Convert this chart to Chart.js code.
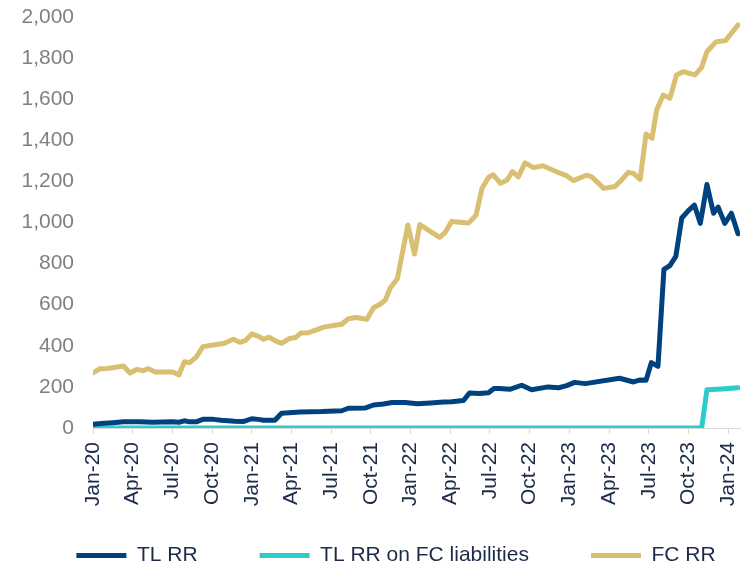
<!DOCTYPE html>
<html>
<head>
<meta charset="utf-8">
<script src="https://cdn.jsdelivr.net/npm/chart.js@4.4.1/dist/chart.umd.min.js"></script>
<style>
  body { margin: 0; background: #fff; }
  canvas { display: block; }
</style>
</head>
<body>
<canvas id="rrChart" width="741" height="564"></canvas>
<script>
// x positions are months since Jan-20
var tickMonths = [0, 3, 6, 9, 12, 15, 18, 21, 24, 27, 30, 33, 36, 39, 42, 45, 48];
var tickLabels = ['Jan-20', 'Apr-20', 'Jul-20', 'Oct-20', 'Jan-21', 'Apr-21', 'Jul-21', 'Oct-21',
  'Jan-22', 'Apr-22', 'Jul-22', 'Oct-22', 'Jan-23', 'Apr-23', 'Jul-23', 'Oct-23', 'Jan-24'];

var tlMonths = [0, 0.6, 1.5, 2.3, 3.5, 4.5, 6.0, 6.5, 6.9, 7.3, 7.8, 8.3, 9.1, 9.7, 10.7, 11.4, 12.0, 12.5,
  12.9, 13.75, 14.25, 15.65, 17.3, 18.8, 19.3, 20.55, 21.2, 21.95, 22.6, 23.6, 24.5, 25.5, 26.5, 27.1,
  28.0, 28.45, 29.2, 29.9, 30.3, 30.7, 31.5, 32.4, 33.15, 34.4, 35.2, 35.8, 36.4, 37.2, 39.8, 40.85,
  41.35, 41.8, 42.2, 42.7, 43.15, 43.6, 44.05, 44.5, 45.0, 45.45, 45.9, 46.4, 46.9, 47.25, 47.75, 48.25, 48.75];
var tlValues = [18, 22, 26, 30, 30, 28, 30, 28, 35, 30, 30, 42, 42, 38, 33, 32, 45, 42,
  38, 38, 72, 78, 80, 84, 96, 97, 112, 117, 124, 124, 118, 122, 126, 128,
  134, 170, 168, 172, 192, 192, 188, 208, 186, 200, 196, 206, 222, 216, 242, 224,
  234, 232, 318, 300, 772, 790, 835, 1022, 1058, 1085, 996, 1185, 1045, 1075, 996, 1045, 945];

var fcLiabMonths = [0, 46.0, 46.4, 47.5, 48.75];
var fcLiabValues = [0, 0, 186, 190, 196];

var fcMonths = [0, 0.5, 1.1, 1.7, 2.3, 2.8, 3.3, 3.8, 4.2, 4.7, 6.05, 6.5, 6.9, 7.3, 7.8, 8.3, 9.1, 9.95,
  10.6, 11.1, 11.5, 12.0, 12.5, 12.9, 13.3, 13.75, 14.25, 14.85, 15.3, 15.7, 16.3, 17.5, 18.8, 19.3,
  19.9, 20.7, 21.2, 21.7, 22.1, 22.45, 23.0, 23.8, 24.3, 24.7, 26.2, 26.6, 27.1, 28.4, 28.95, 29.4,
  29.9, 30.25, 30.8, 31.3, 31.7, 32.15, 32.65, 33.3, 34.0, 35.3, 35.8, 36.3, 37.3, 37.7, 38.6, 39.45,
  39.95, 40.45, 40.85, 41.35, 41.8, 42.25, 42.6, 43.1, 43.6, 44.1, 44.6, 45.5, 46.0, 46.4, 47.1, 47.8, 48.75];
var fcValues = [268, 288, 290, 296, 302, 268, 285, 279, 289, 272, 272, 258, 322, 318, 344, 396, 404, 412,
  432, 417, 425, 458, 446, 432, 442, 425, 412, 436, 440, 462, 464, 492, 505, 532,
  538, 529, 585, 602, 623, 680, 726, 988, 847, 990, 928, 950, 1005, 998, 1036, 1166,
  1220, 1232, 1191, 1207, 1248, 1222, 1290, 1267, 1276, 1240, 1228, 1204, 1230, 1222, 1166, 1175,
  1207, 1244, 1239, 1210, 1431, 1410, 1547, 1620, 1604, 1718, 1734, 1718, 1755, 1831, 1880, 1885, 1961];

function toPoints(xs, ys) {
  return xs.map(function(x, i) { return { x: x, y: ys[i] }; });
}

function lineSet(label, xs, ys, color) {
  return {
    label: label,
    data: toPoints(xs, ys),
    borderColor: color,
    backgroundColor: color,
    borderWidth: 5,
    pointRadius: 0,
    tension: 0,
    borderJoinStyle: 'round',
    borderCapStyle: 'round'
  };
}

// keep the legend on one row and let it sit low, under the rotated date labels
var legendTweak = {
  id: 'legendTweak',
  beforeInit: function(chart) {
    var fit = chart.legend.fit;
    chart.legend.fit = function() {
      var mw = this.maxWidth;
      this.maxWidth = 2000;
      fit.call(this);
      this.maxWidth = mw;
      this.width = mw;
      this.height = 58;
    };
  },
  afterLayout: function(chart) {
    var lg = chart.legend;
    // widen the box both ways (same centre + 26px) so nothing wraps
    lg.left -= 74;
    lg.right += 126;
    lg.top -= 23; // bottom stays put so the legend clip still covers the text
  }
};

var ctx = document.getElementById('rrChart').getContext('2d');
var rrChart = new Chart(ctx, {
  type: 'line',
  data: {
    datasets: [
      lineSet('TL RR', tlMonths, tlValues, '#00427f'),
      lineSet('TL RR on FC liabilities', fcLiabMonths, fcLiabValues, '#2ecbcb'),
      lineSet('FC RR', fcMonths, fcValues, '#d9bf72')
    ]
  },
  plugins: [legendTweak],
  options: {
    responsive: false,
    animation: false,
    devicePixelRatio: 1,
    locale: 'en-US',
    layout: { padding: { top: 17, right: 1, bottom: 0, left: 0 } },
    plugins: {
      tooltip: { enabled: false },
      legend: {
        position: 'bottom',
        labels: {
          font: { family: 'Liberation Sans, Arial, sans-serif', size: 21 },
          color: '#1c2b4a',
          boxWidth: 50,
          boxHeight: 5,
          padding: 62,
          generateLabels: function(chart) {
            return Chart.defaults.plugins.legend.labels.generateLabels(chart).map(function(item) {
              item.lineWidth = 0;
              item.fillStyle = item.strokeStyle;
              return item;
            });
          }
        }
      }
    },
    scales: {
      x: {
        type: 'linear',
        min: 0,
        max: 48.9,
        afterBuildTicks: function(scale) {
          scale.ticks = tickMonths.map(function(v) { return { value: v }; });
        },
        afterFit: function(scale) {
          scale.height = 78;
          scale.paddingRight = 0;
          scale.paddingLeft = 0;
        },
        grid: { drawOnChartArea: false, drawTicks: true, tickLength: 6, color: '#d9d9d9' },
        border: { display: true, color: '#d9d9d9', width: 1 },
        ticks: {
          autoSkip: false,
          minRotation: 90,
          maxRotation: 90,
          padding: 8,
          color: '#1c2b4a',
          font: { family: 'Liberation Sans, Arial, sans-serif', size: 21 },
          callback: function(value) {
            var i = tickMonths.indexOf(value);
            return i >= 0 ? tickLabels[i] : '';
          }
        }
      },
      y: {
        min: 0,
        max: 2000,
        afterFit: function(scale) {
          scale.width = 93;
          scale.paddingTop = 0;
          scale.paddingBottom = 0;
        },
        grid: { display: false },
        border: { display: false },
        ticks: {
          stepSize: 200,
          padding: 11,
          color: '#808080',
          font: { family: 'Liberation Sans, Arial, sans-serif', size: 21 }
        }
      }
    }
  }
});
</script>
</body>
</html>
